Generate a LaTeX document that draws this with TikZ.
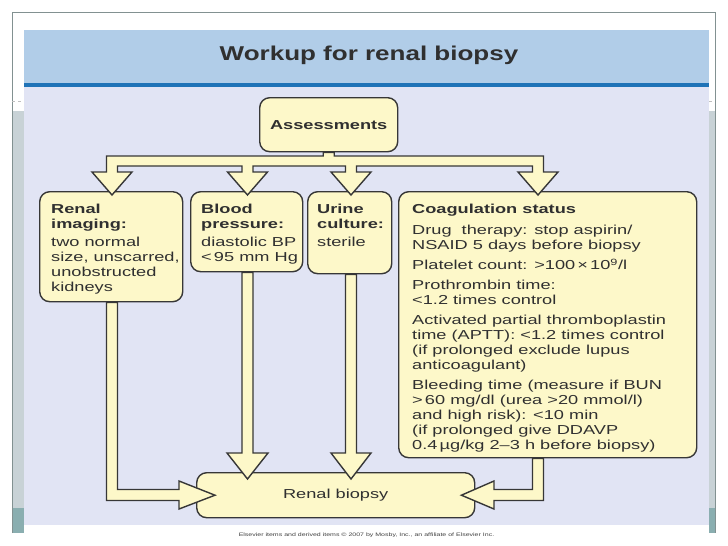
\documentclass[tikz,border=0pt]{standalone}
\usepackage{fontspec}
\setmainfont[FakeStretch=1.4]{Liberation Sans}
\newfontfamily\titlefont[FakeStretch=1.3]{Liberation Sans}
\usetikzlibrary{calc}
\definecolor{boxfill}{RGB}{253,248,201}
\definecolor{boxline}{RGB}{55,55,55}
\definecolor{txt}{RGB}{48,48,48}
\definecolor{bandblue}{RGB}{177,205,232}
\definecolor{lineblue}{RGB}{31,115,183}
\definecolor{bodylav}{RGB}{225,228,244}
\definecolor{stripgray}{RGB}{200,210,214}
\definecolor{stripteal}{RGB}{138,174,176}
\definecolor{framegray}{RGB}{130,145,145}
\begin{document}
\begin{tikzpicture}[x=1pt,y=-1pt,
  box/.style={draw=boxline, fill=boxfill, line width=1.4pt, rounded corners=10pt, inner sep=0pt, anchor=north west, text=txt},
  fat/.style={draw=boxline, fill=boxfill, line width=1.4pt, line join=miter},
  lbl/.style={anchor=north west, inner sep=0pt, align=left, text=txt, font=\fontsize{13}{15.2}\selectfont},
]
% page and slide background
\fill[white] (0,0) rectangle (728,546);
\useasboundingbox (0,0) rectangle (728,546);
\fill[stripgray] (12,111) rectangle (24,508);
\fill[stripteal] (12,508) rectangle (24,533);
\fill[stripgray] (709,111) rectangle (715,508);
\fill[stripteal] (709,508) rectangle (715,533);
\draw[framegray, line width=0.8pt] (12,533) -- (12,12) -- (715,12) -- (715,533);
\draw[gray!50, dashed, line width=0.5pt] (12,101) -- (24,101);
\draw[gray!50, dashed, line width=0.5pt] (709,101) -- (715,101);
\fill[bandblue] (24,30) rectangle (709,83);
\fill[lineblue] (24,83) rectangle (709,87);
\fill[bodylav] (24,87) rectangle (709,525);

\node[text=txt, font=\titlefont\bfseries\fontsize{20}{22}\selectfont] (title) at (369,55) {Workup for renal biopsy};

% boxes
\node[box, minimum width=138pt, minimum height=54pt, font=\bfseries\fontsize{13}{15}\selectfont] (assess) at (259,97) {Assessments};
\node[box, minimum width=143pt, minimum height=110pt] (renalimg) at (39,191) {};
\node[box, minimum width=112pt, minimum height=80pt] (bp) at (190,191) {};
\node[box, minimum width=84pt, minimum height=82pt] (urine) at (307,191) {};
\node[box, minimum width=298pt, minimum height=266pt] (coag) at (398,191) {};
\node[box, minimum width=278pt, minimum height=45pt, font=\fontsize{13}{15}\selectfont] (biopsy) at (196,472) {Renal biopsy};

% box texts
\node[lbl] (renalimgtxt) at (51,204) {\textbf{Renal}\\\textbf{imaging:}\\[2pt]two normal\\size, unscarred,\\unobstructed\\kidneys};
\node[lbl] (bptxt) at (201,204) {\textbf{Blood}\\\textbf{pressure:}\\[2pt]diastolic BP\\<\,95 mm Hg};
\node[lbl] (urinetxt) at (317,204) {\textbf{Urine}\\\textbf{culture:}\\[2pt]sterile};
\node[lbl, font=\fontsize{13}{15}\selectfont] (coagtxt) at (412,204) {\textbf{Coagulation status}\\[6pt]
Drug\ \ therapy: stop aspirin/\\
NSAID 5 days before biopsy\\[5pt]
Platelet count: >100\,×\,10\textsuperscript{9}/l\\[5pt]
Prothrombin time:\\
<1.2 times control\\[5pt]
Activated partial thromboplastin\\
time (APTT): <1.2 times control\\
(if prolonged exclude lupus\\
anticoagulant)\\[5pt]
Bleeding time (measure if BUN\\
>\,60 mg/dl (urea >20 mmol/l)\\
and high risk): <10 min\\
(if prolonged give DDAVP\\
0.4\,µg/kg 2–3 h before biopsy)};

% arrow centre lines
\coordinate (xr) at (112,0);
\coordinate (xb) at (247.5,0);
\coordinate (xu) at (351,0);
\coordinate (xc) at (538,0);

% branching arrow from Assessments
\draw[fat] ($(assess.south)+(-5.5,0)$) |- (106.5,156) -- (106.5,172) -- (92,172) -- ($(renalimg.north -| xr)+(0,4)$) -- (132,172) -- (117.5,172) -- (117.5,166)
  -- (242,166) -- (242,172) -- (227.5,172) -- ($(bp.north -| xb)+(0,4)$) -- (267.5,172) -- (253,172) -- (253,166)
  -- (345.5,166) -- (345.5,172) -- (331,172) -- ($(urine.north -| xu)+(0,4)$) -- (371,172) -- (356.5,172) -- (356.5,166)
  -- (532.5,166) -- (532.5,172) -- (518,172) -- ($(coag.north -| xc)+(0,4)$) -- (558,172) -- (543.5,172) -- (543.5,156)
  -| ($(assess.south)+(5.5,0)$) -- cycle;

% arrows into Renal biopsy
\draw[fat] ($(renalimg.south -| xr)+(-5.5,0)$) -- (106.5,500.5) -- (179,500.5) -- (179,509) -- ($(biopsy.west)+(19,0)$) -- (179,481) -- (179,489.5) -- (117.5,489.5) -- ($(renalimg.south -| xr)+(5.5,0)$) -- cycle;
\draw[fat] ($(bp.south -| xb)+(-5.5,0)$) -- (242,453) -- (227,453) -- ($(biopsy.north -| xb)+(0,7)$) -- (268,453) -- (253,453) -- ($(bp.south -| xb)+(5.5,0)$) -- cycle;
\draw[fat] ($(urine.south -| xu)+(-5.5,0)$) -- (345.5,453) -- (331,453) -- ($(biopsy.north -| xu)+(0,7)$) -- (371,453) -- (356.5,453) -- ($(urine.south -| xu)+(5.5,0)$) -- cycle;
\draw[fat] ($(coag.south -| xc)+(-5.5,0)$) -- (532.5,489.5) -- (494,489.5) -- (494,481) -- ($(biopsy.east)+(-14,0)$) -- (494,509) -- (494,500.5) -- (543.5,500.5) -- ($(coag.south -| xc)+(5.5,0)$) -- cycle;

\node[text=black!75, font=\fontsize{5}{6}\selectfont] (copyright) at (366.5,535) {Elsevier items and derived items © 2007 by Mosby, Inc., an affiliate of Elsevier Inc.};
\end{tikzpicture}
\end{document}
